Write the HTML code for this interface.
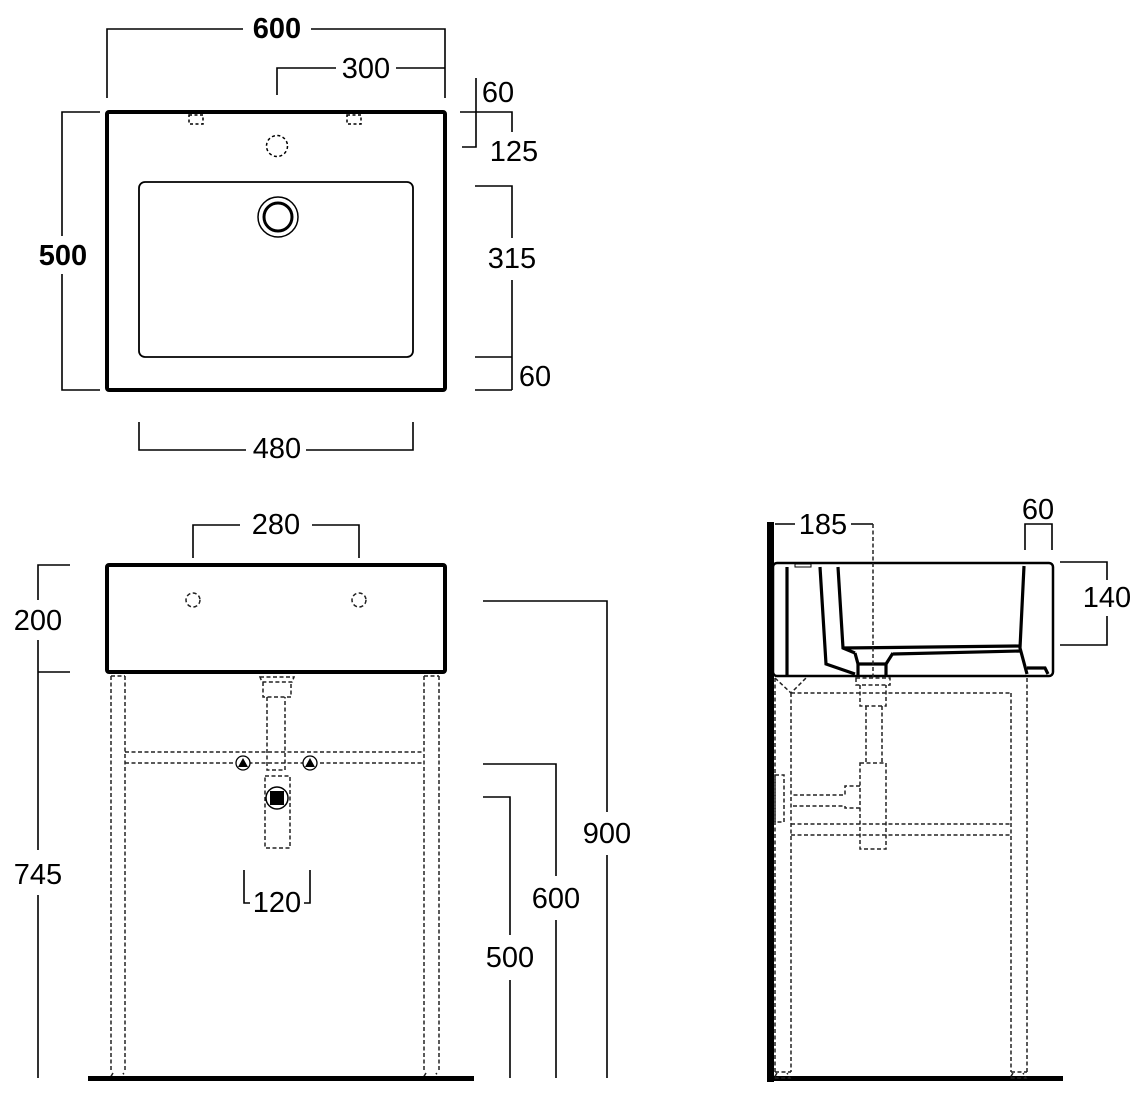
<!DOCTYPE html>
<html><head><meta charset="utf-8"><style>
html,body{margin:0;padding:0;background:#fff;}
svg{display:block;}
text{font-family:"Liberation Sans",sans-serif;font-size:29px;fill:#000;text-anchor:middle;}
.b{font-weight:bold;}
</style></head><body>
<svg width="1141" height="1100" viewBox="0 0 1141 1100" xmlns="http://www.w3.org/2000/svg">
<rect width="1141" height="1100" fill="#fff"/>
<g fill="none" stroke="#000" stroke-width="1.6">
<path d="M107,98 V29 H243 M311,29 H445 V98"/>
<path d="M277,95 V68 H336 M396,68 H445"/>
<path d="M100,112 H62 V236 M62,274 V390 H100"/>
<path d="M476,78 V147 H462 M460,112 H512 V132 M475,186 H512 V238 M512,280 V390 M475,357 H512 M475,390 H512"/>
<path d="M139,422 V450 H246 M306,450 H413 V422"/>
<path d="M193,558 V525 H240 M312,525 H359 V558"/>
<path d="M70,565 H38 V600 M38,640 V850 M38,895 V1078 M70,672 H38"/>
<path d="M483,601 H607 V812 M607,855 V1078"/>
<path d="M483,764 H556 V876 M556,920 V1078"/>
<path d="M483,797 H510 V935 M510,980 V1078"/>
<path d="M244,870 V903 H250 M304,903 H310 V870"/>
<path d="M775,524 H795 M851,524 H873"/>
<path d="M1025,550 V524 H1052 V550"/>
<path d="M1060,562 H1107 V580 M1107,616 V645 H1060"/>
</g>
<rect x="107" y="112" width="338" height="278" rx="2" fill="none" stroke="#000" stroke-width="4"/>
<rect x="139" y="182" width="274" height="175" rx="6" fill="none" stroke="#000" stroke-width="1.8"/>
<circle cx="278" cy="217" r="20" fill="none" stroke="#000" stroke-width="1.5"/>
<circle cx="278" cy="217" r="14" fill="none" stroke="#000" stroke-width="3"/>
<g fill="none" stroke="#000" stroke-width="1.5" stroke-dasharray="3,2.5">
<circle cx="277" cy="146" r="10.5"/>
<rect x="189" y="115" width="14" height="9"/>
<rect x="347" y="115" width="14" height="9"/>
</g>
<rect x="107" y="565" width="338" height="107" rx="2" fill="none" stroke="#000" stroke-width="4"/>
<g fill="none" stroke="#222" stroke-width="1.5" stroke-dasharray="4,2.5">
<circle cx="193" cy="600" r="7"/><circle cx="359" cy="600" r="7"/>
<path d="M111,676 V1072 M125,676 V1072 M111,676 H125"/>
<path d="M424,676 V1072 M439,676 V1072 M424,676 H439"/>
<path d="M125,752 H424 M125,763 H424"/>
<path d="M260,677 H294 L292,682 H262 Z M263,682 V697 H291 V682 M267,697 V770 H285 V697"/>
<rect x="265" y="776" width="25" height="72"/>
<path d="M113,1073 l-3,5 h16 l-3,-5 M426,1073 l-3,5 h16 l-3,-5"/>
</g>
<circle cx="277" cy="798" r="11" fill="#fff" stroke="#000" stroke-width="1.5"/>
<rect x="270" y="791" width="14" height="14" fill="#000"/>
<g fill="#fff" stroke="#000" stroke-width="1.3"><circle cx="243" cy="763" r="7"/><circle cx="310" cy="763" r="7"/></g>
<path d="M238,767 L243,758 L248,767Z M305,767 L310,758 L315,767Z" fill="#000"/>
<rect x="88" y="1076" width="386" height="5" fill="#000"/>
<rect x="767" y="522" width="7" height="560" fill="#000"/>
<rect x="767" y="1076" width="296" height="5" fill="#000"/>
<rect x="773" y="563" width="280" height="113" rx="4" fill="none" stroke="#000" stroke-width="2.5"/>
<g fill="none" stroke="#000" stroke-width="3.2">
<path d="M787,567 V676"/>
<path d="M820,567 L826,664 L855,674"/>
<path d="M838,567 L843,648 L855,653"/>
<path d="M843,648 L1020,646"/>
<path d="M893,654 L1020,651"/>
<path d="M855,653 L858,664 H886 L893,653"/>
<path d="M858,664 V676 M886,664 V676"/>
<path d="M1024,566 L1020,648 L1027,674"/>
<path d="M1027,668 L1045,668 L1048,674"/>
</g>
<rect x="795" y="564" width="16" height="3" fill="none" stroke="#000" stroke-width="1"/>
<g fill="none" stroke="#222" stroke-width="1.5" stroke-dasharray="4,2.5">
<path d="M873,524 V678"/>
<path d="M775,678 V1072 M791,693 V1072 M775,1072 H791"/>
<path d="M1011,693 V1072 M1027,678 V1072 M1011,1072 H1027"/>
<path d="M775,678 L791,693 L806,678 M791,693 H1011"/>
<path d="M791,824 H1011 M791,835 H1011"/>
<path d="M856,678 H890 V685 H856 Z M860,685 V706 H886 V685 M866,706 V763 M882,706 V763"/>
<path d="M860,763 H886 V849 H860 Z"/>
<path d="M860,786 H845 V795 H791 M860,808 H845 V806 H791"/>
<rect x="775" y="775" width="9" height="47"/>
<path d="M777,1073 l-3,5 h16 l-3,-5 M1013,1073 l-3,5 h16 l-3,-5"/>
</g>
<text x="277" y="38" class="b">600</text>
<text x="366" y="78">300</text>
<text x="63" y="265" class="b">500</text>
<text x="498" y="102">60</text>
<text x="514" y="161">125</text>
<text x="512" y="268">315</text>
<text x="535" y="386">60</text>
<text x="277" y="458">480</text>
<text x="276" y="534">280</text>
<text x="38" y="630">200</text>
<text x="38" y="884">745</text>
<text x="277" y="912">120</text>
<text x="607" y="843">900</text>
<text x="556" y="908">600</text>
<text x="510" y="967">500</text>
<text x="823" y="534">185</text>
<text x="1038" y="519">60</text>
<text x="1107" y="607">140</text>
</svg>
</body></html>
